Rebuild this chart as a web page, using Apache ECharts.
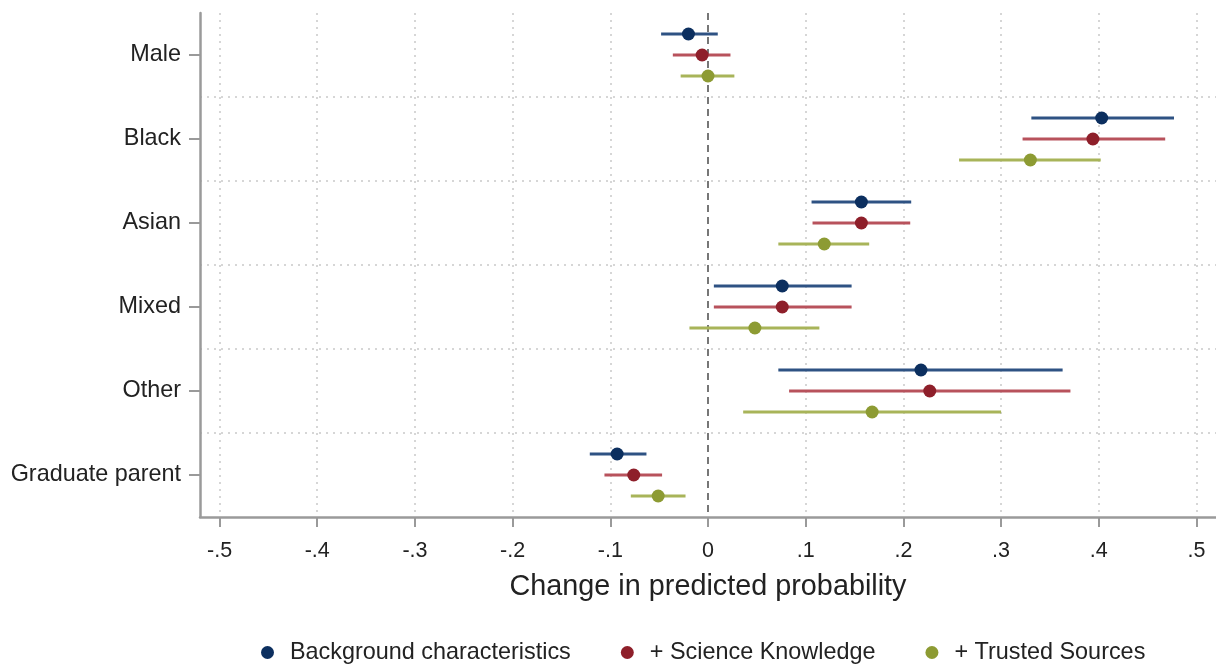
<!DOCTYPE html>
<html>
<head>
<meta charset="utf-8">
<script src="https://cdn.jsdelivr.net/npm/echarts@6/dist/echarts.min.js"></script>
<style>
html,body{margin:0;padding:0;background:#fff;}
#chart{width:1216px;height:666px;}
</style>
</head>
<body>
<div id="chart"></div>
<script>
const categories = ['Male', 'Black', 'Asian', 'Mixed', 'Other', 'Graduate parent'];
const seriesNames = ['Background characteristics', '+ Science Knowledge', '+ Trusted Sources'];
const xTicks = [-0.5, -0.4, -0.3, -0.2, -0.1, 0, 0.1, 0.2, 0.3, 0.4, 0.5];

// Background characteristics
const bgEst  = [-0.020, 0.403, 0.157, 0.076, 0.218, -0.093];
const bgLow  = [-0.048, 0.331, 0.106, 0.006, 0.072, -0.121];
const bgHigh = [ 0.010, 0.477, 0.208, 0.147, 0.363, -0.063];

// + Science Knowledge
const skEst  = [-0.006, 0.394, 0.157, 0.076, 0.227, -0.076];
const skLow  = [-0.036, 0.322, 0.107, 0.006, 0.083, -0.106];
const skHigh = [ 0.023, 0.468, 0.207, 0.147, 0.371, -0.047];

// + Trusted Sources
const tsEst  = [ 0.000, 0.330, 0.119, 0.048, 0.168, -0.051];
const tsLow  = [-0.028, 0.257, 0.072, -0.019, 0.036, -0.079];
const tsHigh = [ 0.027, 0.402, 0.165, 0.114, 0.300, -0.023];

const dotColors = ['#0c2f5f', '#8e1f2a', '#8d9b33'];
const lineColors = ['#2e5283', '#b8525c', '#a8b459'];
const offsets = [-0.25, 0, 0.25];
const FONT = '"Liberation Sans", Arial, sans-serif';

function buildData(est, low, high) {
  return categories.map((c, i) => [i, est[i], low[i], high[i]]);
}

function makeRender(k) {
  return function (params, api) {
    const cat = api.value(0);
    const est = api.value(1);
    const lo = api.value(2);
    const hi = api.value(3);
    const band = api.size([0, 1])[1];
    const c = api.coord([est, cat]);
    const y = c[1] + offsets[k] * band;
    const xl = api.coord([lo, cat])[0];
    const xh = api.coord([hi, cat])[0];
    return {
      type: 'group',
      children: [
        { type: 'line', shape: { x1: xl, y1: y, x2: xh, y2: y },
          style: { stroke: lineColors[k], lineWidth: 3 } },
        { type: 'circle', shape: { cx: c[0], cy: y, r: 6.5 },
          style: { fill: dotColors[k] } }
      ]
    };
  };
}

const allData = [buildData(bgEst, bgLow, bgHigh), buildData(skEst, skLow, skHigh), buildData(tsEst, tsLow, tsHigh)];

const series = seriesNames.map((name, k) => ({
  name: name,
  type: 'custom',
  renderItem: makeRender(k),
  encode: { x: [1, 2, 3], y: 0 },
  data: allData[k],
  itemStyle: { color: dotColors[k] },
  z: 5
}));

series.push({
  type: 'line',
  data: [],
  silent: true,
  z: 1,
  markLine: {
    silent: true,
    symbol: ['none', 'none'],
    label: { show: false },
    animation: false,
    data: xTicks.map(v => (v === 0 ?
      { xAxis: v, lineStyle: { type: [7, 5], color: '#555', width: 1.6 } } :
      { xAxis: v, lineStyle: { type: [2, 5], color: '#c9c9c9', width: 1.5 } }))
  }
});

const chart = echarts.init(document.getElementById('chart'));
chart.setOption({
  animation: false,
  backgroundColor: '#fff',
  textStyle: { fontFamily: FONT },
  grid: { left: 200, right: 0, top: 13, height: 504 },
  legend: {
    data: seriesNames,
    left: 256,
    top: 636,
    icon: 'circle',
    itemWidth: 13,
    itemHeight: 13,
    itemGap: 50,
    textStyle: { fontSize: 23.4, color: '#222', fontFamily: FONT, padding: [0, 0, 0, 11] }
  },
  xAxis: {
    type: 'value',
    min: -0.52,
    max: 0.52,
    axisLine: { show: true, onZero: false, lineStyle: { color: '#9a9a9a', width: 2.5 } },
    axisTick: { show: true, customValues: xTicks, length: 10, lineStyle: { color: '#9a9a9a', width: 2 } },
    axisLabel: {
      customValues: xTicks,
      fontSize: 21.5,
      color: '#222',
      fontFamily: FONT,
      margin: 23,
      formatter: function (v) {
        const r = Math.round(v * 10) / 10;
        if (r === 0) return '0';
        return String(r).replace('0.', '.');
      }
    },
    splitLine: { show: false },
    name: 'Change in predicted probability',
    nameLocation: 'middle',
    nameGap: 56,
    nameTextStyle: { fontSize: 28.8, color: '#222', fontFamily: FONT }
  },
  yAxis: {
    type: 'category',
    inverse: true,
    data: categories,
    axisLine: { show: true, onZero: false, lineStyle: { color: '#9a9a9a', width: 2.5 } },
    axisTick: { show: true, alignWithLabel: true, length: 11, lineStyle: { color: '#9a9a9a', width: 2 } },
    axisLabel: { fontSize: 23.4, color: '#222', fontFamily: FONT, margin: 19 },
    splitLine: {
      show: true, interval: 0, showMinLine: false, showMaxLine: false,
      lineStyle: { type: [2, 5], color: '#c9c9c9', width: 1.5 }
    }
  },
  series: series
});
</script>
</body>
</html>
